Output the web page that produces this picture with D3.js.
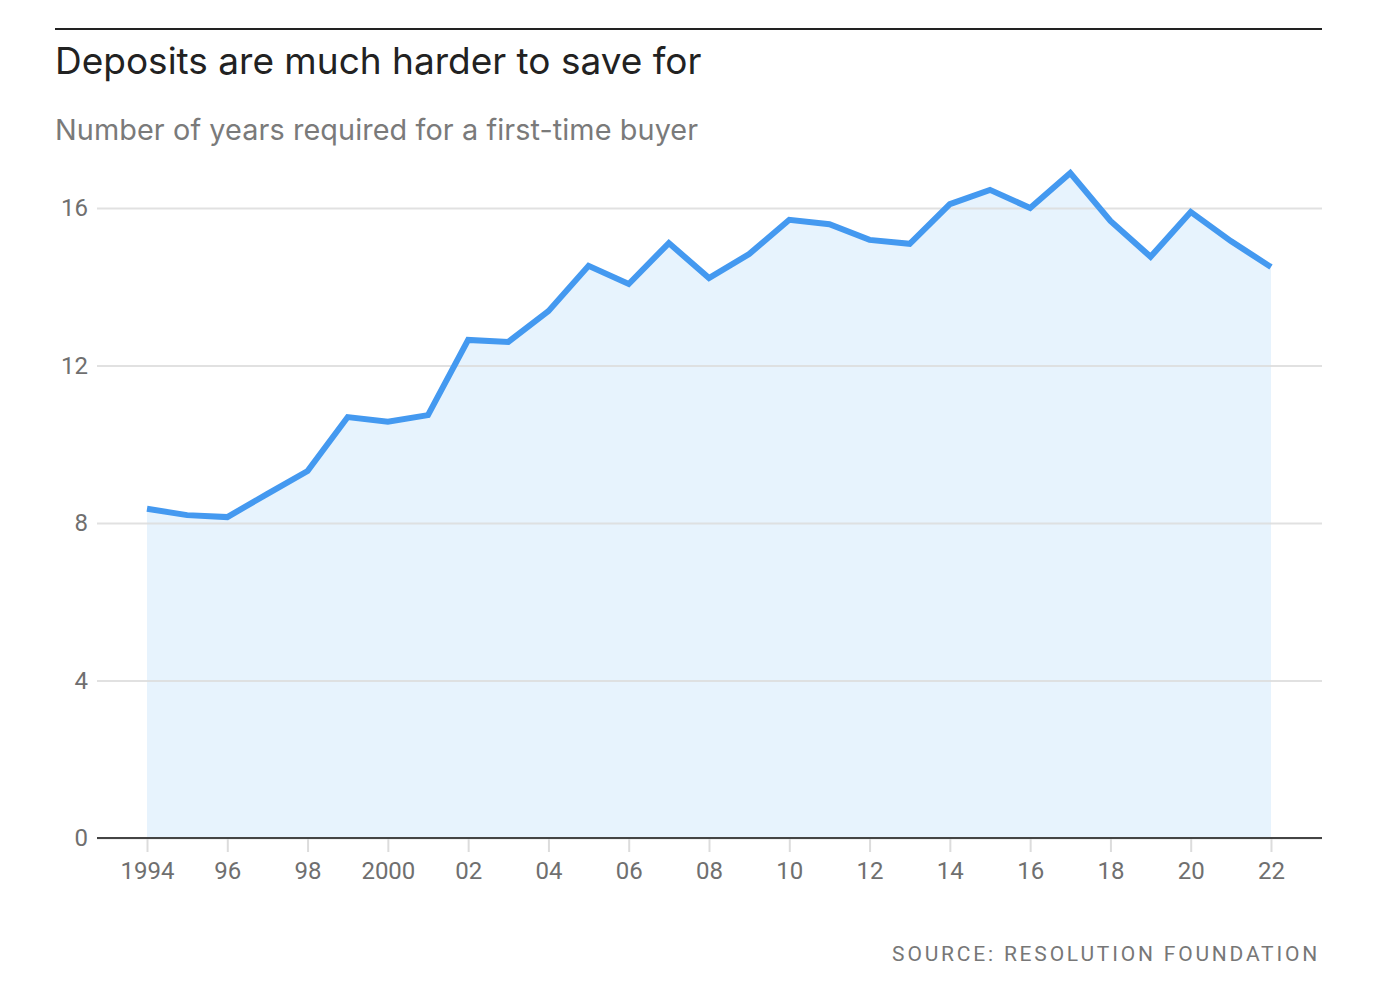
<!DOCTYPE html>
<html><head><meta charset="utf-8">
<script src="https://cdn.jsdelivr.net/npm/d3@7"></script>
<style>
body{margin:0;background:#fff;}
svg{display:block;}
.tick text{font-family:"Liberation Sans Narrow","Roboto",sans-serif;}
</style></head>
<body>
<svg id="c" width="1400" height="988"></svg>
<script>
const years = [1994,1995,1996,1997,1998,1999,2000,2001,2002,2003,2004,2005,2006,2007,2008,2009,2010,2011,2012,2013,2014,2015,2016,2017,2018,2019,2020,2021,2022];
const values = [8.36,8.20,8.15,8.74,9.32,10.69,10.57,10.74,12.65,12.60,13.38,14.53,14.07,15.11,14.22,14.83,15.70,15.59,15.19,15.09,16.10,16.46,16.00,16.89,15.67,14.76,15.90,15.16,14.50];
const yTicks = [0,4,8,12,16];
const xTicks = [1994,1996,1998,2000,2002,2004,2006,2008,2010,2012,2014,2016,2018,2020,2022];
const xTickLabel = y => (y===1994||y===2000) ? String(y) : String(y).slice(2);

const data = years.map((y,i)=>({year:y,value:values[i]}));
const svg = d3.select("#c");
const left=97, right=1322;
const x = d3.scaleLinear().domain([1994,2022]).range([147,1271]);
const y = d3.scaleLinear().domain([0,16]).range([838,208]);

// top rule
svg.append("line").attr("x1",55).attr("x2",1322).attr("y1",29).attr("y2",29).attr("stroke","#222").attr("stroke-width",2);
svg.append("text").attr("x",55).attr("y",74).text("Deposits are much harder to save for")
  .attr("font-family","Inter, Roboto, sans-serif").attr("font-size",37).attr("fill","#222").attr("letter-spacing","0");
svg.append("text").attr("x",55).attr("y",140).text("Number of years required for a first-time buyer")
  .attr("font-family","Inter, Roboto, sans-serif").attr("font-size",28.8).attr("fill","#7a7a7a").attr("letter-spacing","0.1");

// area
const area = d3.area().x(d=>x(d.year)).y0(y(0)).y1(d=>y(d.value));
svg.append("path").datum(data).attr("d",area).attr("fill","#e7f3fd");

// grid (drawn over area)
const yAxis = d3.axisLeft(y).tickValues(yTicks).tickSize(-(right-left)).tickPadding(9);
const gy = svg.append("g").attr("transform",`translate(${left},0)`).call(yAxis);
gy.select(".domain").remove();
gy.selectAll(".tick line").attr("stroke","#dcdcdc").attr("stroke-width",2).attr("stroke-opacity",0.85);
gy.selectAll(".tick text").attr("font-size",24).attr("fill","#6f6f6f").attr("dy","0.32em");

// x axis
const xAxis = d3.axisBottom(x).tickValues(xTicks).tickFormat(xTickLabel).tickSize(14).tickPadding(10).tickSizeOuter(0);
const gx = svg.append("g").attr("transform",`translate(0,${y(0)})`).call(xAxis);
gx.select(".domain").remove();
gx.selectAll(".tick line").attr("stroke","#dcdcdc").attr("stroke-width",2);
gx.selectAll(".tick text").attr("font-size",24).attr("fill","#6f6f6f");
svg.append("line").attr("x1",left).attr("x2",right).attr("y1",y(0)).attr("y2",y(0)).attr("stroke","#444").attr("stroke-width",2);

// line
const line = d3.line().x(d=>x(d.year)).y(d=>y(d.value));
svg.append("path").datum(data).attr("d",line).attr("fill","none").attr("stroke","#4499f0").attr("stroke-width",6).attr("stroke-linejoin","miter");

// source
svg.append("text").attr("x",1320).attr("y",961).attr("text-anchor","end").text("SOURCE: RESOLUTION FOUNDATION")
  .attr("font-family","'Liberation Sans Narrow', Roboto, sans-serif").attr("font-size",21).attr("fill","#777").attr("letter-spacing","2.8");
</script>
</body></html>
